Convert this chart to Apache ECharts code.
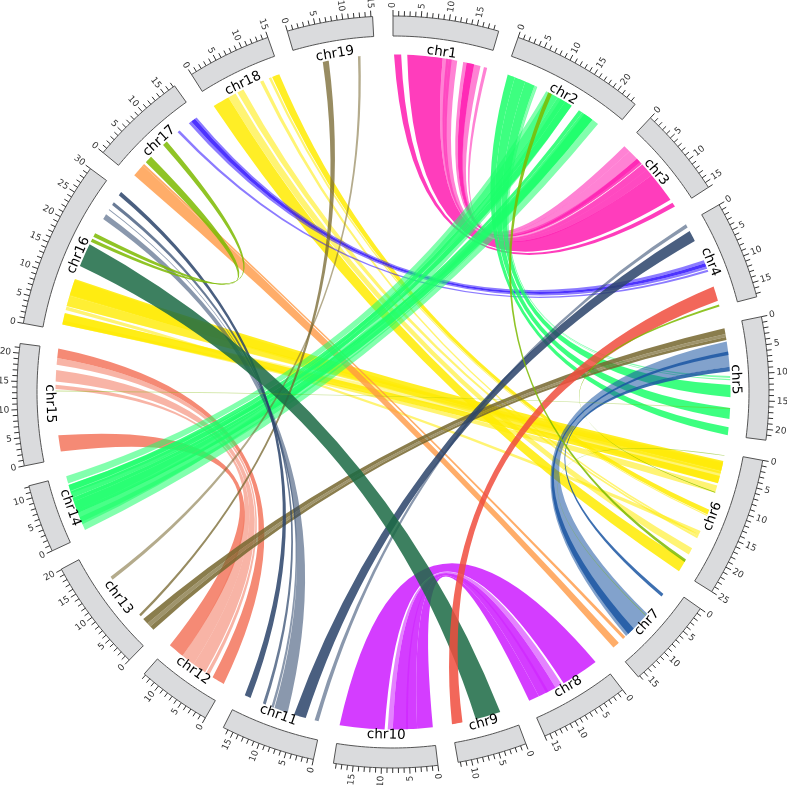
<!DOCTYPE html>
<html>
<head>
<meta charset="utf-8">
<style>html,body{margin:0;padding:0;background:#fff}#main{width:787px;height:785px}</style>
<script src="https://cdn.jsdelivr.net/npm/echarts@6/dist/echarts.min.js"></script>
</head>
<body>
<div id="main"></div>
<script>
// chromosomes, lengths in Mb
var chrNames = ['chr1','chr2','chr3','chr4','chr5','chr6','chr7','chr8','chr9','chr10','chr11','chr12','chr13','chr14','chr15','chr16','chr17','chr18','chr19'];
var chrLengths = [18.9,23.9,16,17.6,21.9,25,16.3,16,12.4,18.5,16.9,13.3,20.1,12.2,21.7,30,17.3,15,15.3];
var gapSize = 3.6;

// links: [chrA, startA, endA, chrB, startB, endB, opacity]
var D = 0.85, L = 0.55;
var yellowLinks = [
    [16,7,10.45,6,1.55,3.6,D],[16,4.9,7,6,3.6,4.1,L],[16,1.2,3.5,6,4.55,6.05,D],[16,1.2,2,6,6.5,8,L],
    [16,4.1,4.8,6,16,16.8,L],[16,4.9,7,6,1.8,3.4,L],[16,7.2,10.2,6,3.7,6,L],[16,1.4,3.3,6,2,4,0.4],
    [18,0.35,3.7,6,22.6,25,D],[18,3.7,5.3,6,19.8,21.2,L],[18,5.7,7.05,6,17.2,17.6,L],
    [18,10.65,11.35,6,16.8,17.2,L],[18,12.5,13,6,12.6,12.8,L],[18,13.2,14.7,6,11.5,12.5,D]
];
var pinkLinks = [
    [1,0.2,1.6,3,14.7,15.6,D],[1,2.8,9.8,3,7.9,14,D],[1,9.8,11,3,6.5,7.9,L],[1,11,12.7,3,5.1,6.5,L],
    [1,13.9,14.6,3,4.5,4.9,L],[1,14.6,16.1,3,3.6,4.5,D],[1,16.1,17.4,3,1.5,3.6,L],[1,18.1,18.75,3,0.1,1.5,L],
    [1,14.6,16.1,3,5.1,7.9,L],[1,10.5,11.6,3,3.6,5,L]
];
var salmonLinks = [
    [15,1.35,4.6,12,10,13.25,D],[15,19.8,21.7,12,0.2,2.75,D],[15,18.5,19.8,12,3.55,4.25,L],
    [15,15.2,17.45,12,4.5,7.25,L],[15,13.7,14.55,12,7.25,10,L]
];
var purpleLinks = [
    [8,0.85,8.4,10,9.6,18.5,D],[8,8.85,10.2,10,8,9,L],[8,10.2,13.9,10,3.2,8,D],[8,13.9,16,10,0.1,3.2,D],[8,11.8,12.3,10,5,5.4,0.5]
];
var orangeLinks = [[17,0.45,3,7,14.85,16.25,0.8],[17,3,3.4,7,13.1,13.7,0.8]];
var blueLinks = [[17,16.8,17.2,4,8,8.6,L],[17,15.9,16.8,4,8.6,9.3,D],[17,15.3,15.9,4,9.3,9.8,L],[17,12.5,13,4,10,10.4,L]];
var greenLinks = [
    [2,0.5,2,5,20.3,21.9,D],[2,2,4.2,5,16.5,18.7,D],[2,4.2,6.2,5,12,14.4,D],[2,6.2,6.5,5,10.25,10.6,L],[2,6.5,6.8,5,10.8,11.05,L],
    [2,8.75,11.3,14,10.7,12.2,L],[2,11.3,13,14,9.2,10.4,D],[2,13,14.5,14,7.8,9.1,D],[2,16.2,17,14,7,7.8,D],[2,17,19.4,14,4.6,7,D],[2,19.4,20.8,14,1,3.7,L],
    [2,12,14.5,14,2.2,4.6,L],[2,17.5,19.4,14,8.7,10.4,L],[2,9.5,11.3,14,5.2,7.7,L],[2,17.5,19.4,14,2.7,5.2,L]
];
var steelLinks = [[5,3.4,8.4,7,6.85,12.9,L],[5,5.4,6.1,7,10.8,12.3,D],[5,8.4,9.3,7,1.8,2.45,D]];
var khakiLinks = [
    [5,0.75,1.9,13,2.5,3.7,D],[5,1.9,2.5,13,1.7,2.5,0.7],[5,2.5,3.1,13,0.8,1.7,D],
    [19,5,6.2,13,4.4,4.9,0.75],[19,12,12.5,13,13.5,14.2,L]
];
var slateLinks = [
    [4,0.1,0.8,11,0.6,1.4,L],[4,1.6,3.8,11,3.2,5.6,D],[16,29.1,29.9,11,14.75,16,D],
    [16,26.8,27.4,11,11.5,12.1,0.7],[16,25.6,25.8,11,9.8,10.3,L],[16,23.5,24.6,11,6.9,9.65,L]
];
var tealLinks = [[16,13.2,17.9,9,2.5,7.5,D]];
var redLinks = [[4,13.5,16.4,9,10.2,12.3,D]];
var oliveLinks = [
    [2,9.2,10,6,22.3,22.9,D],[17,3.9,5.4,16,19.5,20.3,D],[17,8.7,9.7,16,18.4,19.1,D],
    [4,17.2,17.6,6,7.85,8,D],[6,0.4,0.5,7,7.2,7.35,L],[15,13.2,13.4,5,16.5,16.7,0.4]
];

var linkSets = [
    { color: '#ffeb00', rows: yellowLinks },
    { color: '#ff1bb0', rows: pinkLinks },
    { color: '#f3765d', rows: salmonLinks },
    { color: '#cd1bff', rows: purpleLinks },
    { color: '#ff9944', rows: orangeLinks },
    { color: '#2e0fff', rows: blueLinks },
    { color: '#1bff6a', rows: greenLinks },
    { color: '#1b56a2', rows: steelLinks },
    { color: '#76662e', rows: khakiLinks },
    { color: '#2a436a', rows: slateLinks },
    { color: '#1b6a44', rows: tealLinks },
    { color: '#f04c3d', rows: redLinks },
    { color: '#7cba00', rows: oliveLinks }
];

var blockInner = 356, blockOuter = 376, tickLen = 5, linkRadius = 337.5, nameRadius = 343;
var crest = 50;

var chrStart = [], total = 0;
chrLengths.forEach(function (len) {
    chrStart.push(total);
    total += len + gapSize;
});

function deg(u) { return u * 360 / total; }

// control point near the centre, moved along the bisector for close ends
function control(api, u1, u2) {
    var d = Math.abs(u2 - u1);
    var mid = (u1 + u2) / 2;
    if (d > total / 2) { mid += total / 2; d = total - d; }
    var r = crest * Math.cos(deg(d) / 2 * Math.PI / 180);
    return api.coord([r, mid]);
}

function renderLink(rows, color) {
    return function (params, api) {
        var row = rows[params.dataIndex];
        var a0 = chrStart[row[0] - 1] + row[1], a1 = chrStart[row[0] - 1] + row[2];
        var b0 = chrStart[row[3] - 1] + row[4], b1 = chrStart[row[3] - 1] + row[5];
        if (a0 > b0) {
            var t0 = a0, t1 = a1;
            a0 = b0; a1 = b1; b0 = t0; b1 = t1;
        }
        var path = '';
        var i, p;
        for (i = 0; i <= 6; i++) {
            p = api.coord([linkRadius, a0 + (a1 - a0) * i / 6]);
            path += (i ? 'L' : 'M') + p[0] + ' ' + p[1];
        }
        var c1 = control(api, a1, b0);
        p = api.coord([linkRadius, b0]);
        path += 'Q' + c1[0] + ' ' + c1[1] + ' ' + p[0] + ' ' + p[1];
        for (i = 1; i <= 6; i++) {
            p = api.coord([linkRadius, b0 + (b1 - b0) * i / 6]);
            path += 'L' + p[0] + ' ' + p[1];
        }
        var c2 = control(api, b1, a0);
        p = api.coord([linkRadius, a0]);
        path += 'Q' + c2[0] + ' ' + c2[1] + ' ' + p[0] + ' ' + p[1] + 'Z';
        return {
            type: 'path',
            shape: { pathData: path },
            style: { fill: color, opacity: row[6] }
        };
    };
}

function renderBlock(params, api) {
    var i = params.dataIndex;
    var start = chrStart[i], len = chrLengths[i];
    var pts = [], k;
    for (k = 0; k <= 24; k++) pts.push(api.coord([blockOuter, start + len * k / 24]));
    for (k = 24; k >= 0; k--) pts.push(api.coord([blockInner, start + len * k / 24]));
    var children = [{
        type: 'polygon',
        shape: { points: pts },
        style: { fill: '#dadbdd', stroke: '#555', lineWidth: 1 }
    }];
    var midDeg = deg(start + len / 2);
    var flip = midDeg >= 180;
    for (var mb = 0; mb <= len; mb++) {
        var p0 = api.coord([blockOuter, start + mb]);
        var p1 = api.coord([blockOuter + (mb % 5 === 0 ? tickLen + 1 : tickLen), start + mb]);
        children.push({
            type: 'line',
            shape: { x1: p0[0], y1: p0[1], x2: p1[0], y2: p1[1] },
            style: { stroke: '#333', lineWidth: 1 }
        });
        if (mb % 5 === 0) {
            var th = deg(start + mb);
            var q = api.coord([blockOuter + tickLen + 3, start + mb]);
            var phi = flip ? th + 90 : th - 90;
            children.push({
                type: 'text',
                x: q[0], y: q[1],
                rotation: -phi * Math.PI / 180,
                style: {
                    text: String(mb), fill: '#333', font: '9px "DejaVu Sans"',
                    align: flip ? 'right' : 'left', verticalAlign: 'middle'
                }
            });
        }
    }
    var c = api.coord([nameRadius, start + len / 2]);
    var rot = (midDeg < 90 || midDeg > 270) ? midDeg : midDeg - 180;
    children.push({
        type: 'text',
        x: c[0], y: c[1],
        rotation: -rot * Math.PI / 180,
        z2: 10,
        style: {
            text: chrNames[i], fill: '#000', font: '13.5px "DejaVu Sans"',
            align: 'center', verticalAlign: 'middle'
        }
    });
    return { type: 'group', children: children };
}

var series = linkSets.map(function (set) {
    return {
        type: 'custom',
        coordinateSystem: 'polar',
        silent: true,
        animation: false,
        renderItem: renderLink(set.rows, set.color),
        data: set.rows
    };
});
series.push({
    type: 'custom',
    coordinateSystem: 'polar',
    silent: true,
    animation: false,
    z: 5,
    renderItem: renderBlock,
    data: chrNames.map(function (n, i) { return [i, i]; })
});

var myChart = echarts.init(document.getElementById('main'));
myChart.setOption({
    backgroundColor: '#fff',
    animation: false,
    polar: { center: [393, 392], radius: 400 },
    angleAxis: { show: false, min: 0, max: total, startAngle: 90, clockwise: true },
    radiusAxis: { show: false, min: 0, max: 400 },
    series: series
});
</script>
</body>
</html>
